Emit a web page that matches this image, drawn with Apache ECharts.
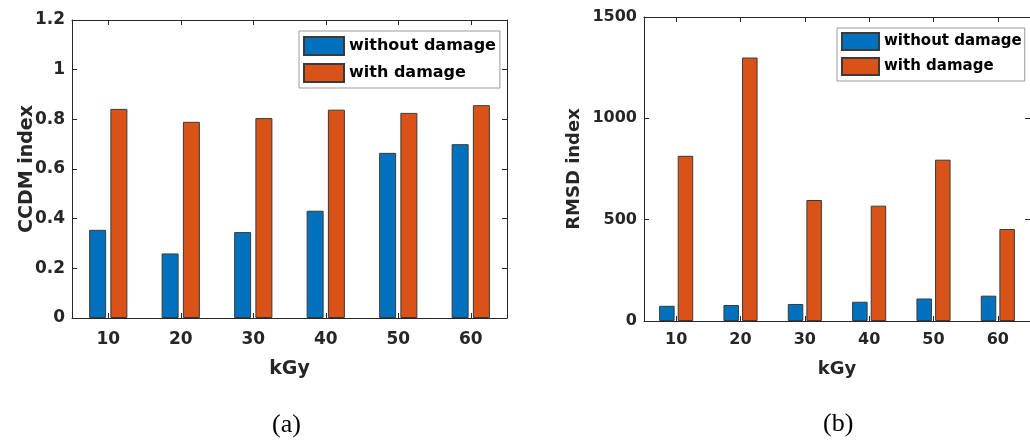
<!DOCTYPE html>
<html>
<head>
<meta charset="utf-8">
<script src="https://cdn.jsdelivr.net/npm/echarts@6/dist/echarts.min.js"></script>
<style>
html,body{margin:0;padding:0;background:#fff;}
#main{width:1030px;height:442px;}
</style>
</head>
<body>
<div id="main"></div>
<script>
const categories = ['10', '20', '30', '40', '50', '60'];
const seriesNames = ['without damage', 'with damage'];
const ccdmWithout = [0.355, 0.26, 0.346, 0.432, 0.665, 0.70];
const ccdmWith = [0.842, 0.79, 0.805, 0.839, 0.826, 0.857];
const rmsdWithout = [75, 79, 84, 95, 111, 125];
const rmsdWith = [815, 1300, 597, 569, 796, 454];
const ccdmTicks = { min: 0, max: 1.2, interval: 0.2 };
const rmsdTicks = { min: 0, max: 1500, interval: 500 };
const xName = 'kGy';
const yNames = ['CCDM index', 'RMSD index'];
const captions = ['(a)', '(b)'];

const FONT = 'DejaVu Sans';
const AX = '#262626';
const BLUE = '#0072BD';
const ORANGE = '#D95319';
const EDGE = '#3a3a3a';

function catAxis(grid, pos, show, fs, nameGap, margin) {
  return {
    type: 'category', gridIndex: grid, position: pos, data: categories,
    boundaryGap: true,
    axisLine: { show: true, onZero: false, lineStyle: { color: AX, width: 1 } },
    axisTick: { show: true, inside: true, alignWithLabel: true, length: 5, lineStyle: { color: AX } },
    axisLabel: { show: show, color: AX, fontFamily: FONT, fontWeight: 'bold', fontSize: fs, margin: margin },
    name: show ? xName : '', nameLocation: 'middle', nameGap: nameGap, nameMoveOverlap: false,
    nameTextStyle: { color: AX, fontFamily: FONT, fontWeight: 'bold', fontSize: fs + 2 },
    splitLine: { show: false }
  };
}
function valAxis(grid, pos, show, ticks, name, fs, nameGap) {
  return {
    type: 'value', gridIndex: grid, position: pos,
    min: ticks.min, max: ticks.max, interval: ticks.interval,
    axisLine: { show: true, onZero: false, lineStyle: { color: AX, width: 1 } },
    axisTick: { show: true, inside: true, length: 5, lineStyle: { color: AX } },
    axisLabel: {
      show: show, color: AX, fontFamily: FONT, fontWeight: 'bold', fontSize: fs, margin: 7,
      formatter: v => String(Math.round(v * 1000) / 1000)
    },
    name: show ? name : '', nameLocation: 'middle', nameGap: nameGap, nameMoveOverlap: false,
    nameTextStyle: { color: AX, fontFamily: FONT, fontWeight: 'bold', fontSize: fs + 2 },
    splitLine: { show: false }
  };
}
function barSeries(name, data, color, xi, yi, bw, gap) {
  return {
    type: 'bar', name: name, data: data, xAxisIndex: xi, yAxisIndex: yi,
    barWidth: bw, barGap: gap,
    itemStyle: { color: color, borderColor: EDGE, borderWidth: 1 },
    emphasis: { disabled: true }
  };
}

const chart = echarts.init(document.getElementById('main'), null, { renderer: 'canvas' });
chart.setOption({
  animation: false,
  backgroundColor: '#fff',
  grid: [
    { left: 72, top: 20, width: 435, height: 298 },
    { left: 644, top: 17, width: 392, height: 304 }
  ],
  xAxis: [
    catAxis(0, 'bottom', true, 17, 42, 13),
    catAxis(0, 'top', false, 17, 0, 8),
    catAxis(1, 'bottom', true, 16, 39, 11),
    catAxis(1, 'top', false, 16, 0, 8)
  ],
  yAxis: [
    valAxis(0, 'left', true, ccdmTicks, yNames[0], 17, 35),
    valAxis(0, 'right', false, ccdmTicks, '', 17, 0),
    valAxis(1, 'left', true, rmsdTicks, yNames[1], 16, 61),
    valAxis(1, 'right', false, rmsdTicks, '', 16, 0)
  ],
  legend: [
    {
      data: seriesNames, orient: 'vertical', left: 299, top: 31,
      itemWidth: 40, itemHeight: 18, itemGap: 7,
      padding: [5, 4, 5, 4],
      borderColor: '#9a9a9a', borderWidth: 1, backgroundColor: '#fff',
      textStyle: { color: '#000', fontFamily: FONT, fontWeight: 'bold', fontSize: 16 },
      icon: 'rect', selectedMode: false,
      formatter: n => n
    },
    {
      data: seriesNames.map(n => ({ name: n + ' ' })), orient: 'vertical', left: 837, top: 28,
      itemWidth: 37, itemHeight: 17, itemGap: 6,
      padding: [4, 3, 5, 4],
      borderColor: '#9a9a9a', borderWidth: 1, backgroundColor: '#fff',
      textStyle: { color: '#000', fontFamily: FONT, fontWeight: 'bold', fontSize: 15 },
      icon: 'rect', selectedMode: false,
      formatter: n => n.trim()
    }
  ],
  series: [
    barSeries(seriesNames[0], ccdmWithout, BLUE, 0, 0, 17, '25%'),
    barSeries(seriesNames[1], ccdmWith, ORANGE, 0, 0, 17, '25%'),
    barSeries(seriesNames[0] + ' ', rmsdWithout, BLUE, 2, 2, 15.5, '20%'),
    barSeries(seriesNames[1] + ' ', rmsdWith, ORANGE, 2, 2, 15.5, '20%')
  ],
  graphic: [
    { type: 'text', left: 288 - 16, top: 412, style: { text: captions[0], fill: '#000', font: '26px "Liberation Serif"' } },
    { type: 'text', left: 839 - 16, top: 411, style: { text: captions[1], fill: '#000', font: '26px "Liberation Serif"' } }
  ]
});
</script>
</body>
</html>
